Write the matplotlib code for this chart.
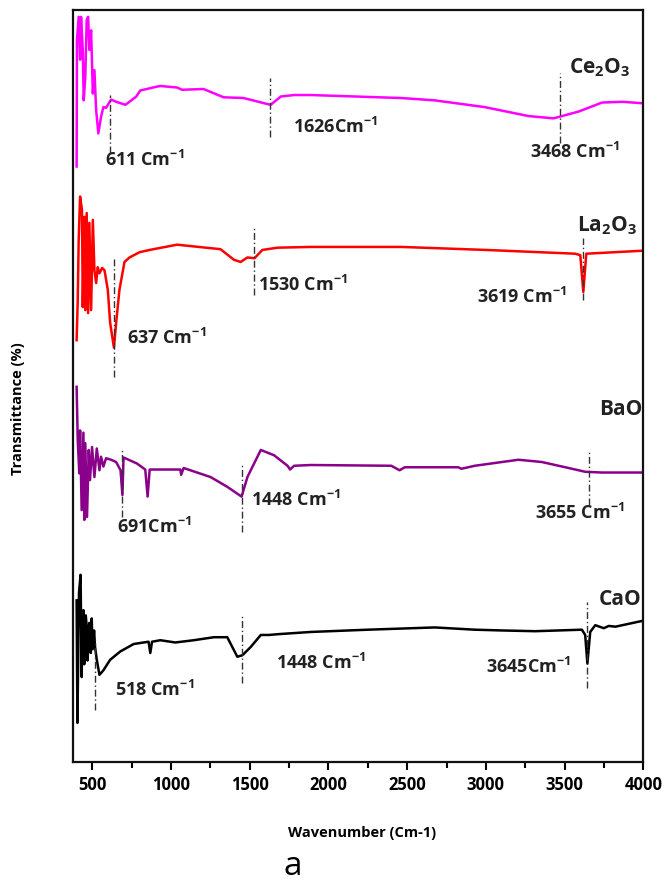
import matplotlib
matplotlib.use("Agg")
import matplotlib.pyplot as plt
from matplotlib.ticker import MultipleLocator

plt.rcParams["font.family"] = ["Open Sans", "DejaVu Sans"]
plt.rcParams["font.weight"] = "bold"
plt.rcParams["mathtext.fontset"] = "custom"
plt.rcParams["mathtext.rm"] = "Open Sans:bold"
plt.rcParams["mathtext.bf"] = "Open Sans:bold"
plt.rcParams["mathtext.it"] = "Open Sans:bold"
plt.rcParams["mathtext.default"] = "rm"

# FTIR spectra (wavenumber in cm-1, offset transmittance in arbitrary %)
ce_wn = [400, 402, 413, 422, 428, 439, 445, 455, 464, 473, 481, 492, 503, 513,
         524, 538, 555, 570, 587, 619, 651, 710, 779, 804, 906, 932, 1038, 1070,
         1206, 1334, 1461, 1612, 1633, 1697, 1781, 1888, 2462, 2672, 2991, 3272,
         3430, 3589, 3738, 3866, 4000]
ce_t = [79.2, 96.0, 99.1, 93.4, 99.1, 94.7, 88.0, 91.1, 98.7, 99.1, 94.7, 97.3,
        88.9, 92.0, 86.7, 83.6, 85.8, 87.1, 87.0, 88.1, 87.8, 87.4, 88.5, 89.3,
        89.8, 89.9, 89.7, 89.4, 89.5, 88.4, 88.3, 87.5, 87.4, 88.5, 88.7, 88.7,
        88.3, 88.0, 87.1, 85.9, 85.6, 86.5, 87.7, 87.8, 87.6]

la_wn = [400, 407, 413, 422, 434, 439, 449, 455, 464, 473, 481, 492, 503, 513,
         524, 534, 545, 562, 577, 598, 613, 637, 651, 672, 704, 736, 800, 864,
         1038, 1314, 1399, 1442, 1485, 1530, 1580, 1676, 1888, 2462, 3000, 3568,
         3600, 3619, 3638, 4000]
la_t = [56.1, 61.4, 69.4, 75.2, 73.4, 60.5, 72.5, 60.1, 73.0, 59.7, 71.7, 60.1,
        72.1, 65.4, 63.7, 65.8, 65.0, 65.7, 65.4, 62.8, 58.4, 55.1, 58.4, 62.8,
        66.5, 67.1, 67.8, 68.1, 68.8, 68.2, 66.8, 66.5, 67.1, 67.0, 68.1, 68.4,
        68.5, 68.5, 68.1, 67.6, 67.4, 62.5, 67.6, 68.0]

ba_wn = [400, 407, 417, 422, 432, 443, 449, 455, 466, 477, 485, 498, 513, 528,
         545, 555, 570, 587, 619, 651, 679, 691, 698, 783, 836, 851, 864, 932,
         1059, 1064, 1080, 1251, 1357, 1448, 1485, 1570, 1654, 1740, 1756, 1782,
         1888, 2399, 2452, 2484, 2824, 2845, 2930, 3207, 3355, 3526, 3631, 3738,
         4000]
ba_t = [49.9, 42.8, 38.4, 44.1, 33.5, 43.8, 32.2, 42.4, 32.6, 41.5, 37.5, 41.9,
        37.9, 41.7, 38.8, 40.6, 39.3, 40.4, 40.2, 39.9, 38.8, 35.5, 40.5, 39.7,
        38.9, 35.3, 38.9, 38.9, 38.9, 38.2, 39.1, 37.9, 36.6, 35.3, 37.9, 41.5,
        40.8, 39.4, 38.9, 39.4, 39.5, 39.4, 38.8, 39.2, 39.2, 39.0, 39.4, 40.2,
        39.9, 39.1, 38.6, 38.5, 38.5]

ca_wn = [400, 405, 415, 425, 432, 437, 443, 448, 453, 458, 464, 469, 474, 480,
         485, 490, 496, 501, 506, 511, 517, 528, 545, 570, 613, 677, 763, 857,
         868, 879, 932, 1027, 1144, 1272, 1357, 1389, 1421, 1453, 1506, 1570,
         1623, 1676, 1888, 2250, 2675, 2930, 3100, 3313, 3610, 3631, 3645, 3663,
         3695, 3749, 3781, 3823, 4000]
ca_t = [21.5, 5.2, 22.5, 24.9, 11.3, 19.0, 20.2, 13.0, 14.5, 19.5, 18.0, 13.5,
        15.3, 18.5, 16.6, 14.5, 19.1, 15.0, 16.2, 17.5, 15.3, 13.6, 11.6, 12.2,
        13.6, 14.7, 15.7, 16.0, 14.5, 16.0, 16.2, 15.9, 16.2, 16.6, 16.6, 15.3,
        14.0, 14.2, 15.3, 16.9, 16.9, 17.0, 17.3, 17.6, 17.9, 17.6, 17.5, 17.4,
        17.6, 16.9, 13.1, 17.3, 18.2, 17.8, 18.1, 18.0, 18.8]

series_names = ["Ce$_2$O$_3$", "La$_2$O$_3$", "BaO", "CaO"]
series_colors = ["#FF00FF", "#FF0000", "#8B008B", "#000000"]

# Band assignments: wavenumber, label text, dashed-line extent, label anchor
band_wn = [611, 1626, 3468, 637, 1530, 3619, 691, 1448, 3655, 518, 1448, 3645]
band_text = ["611 Cm$^{-1}$", "1626Cm$^{-1}$", "3468 Cm$^{-1}$",
             "637 Cm$^{-1}$", "1530 Cm$^{-1}$", "3619 Cm$^{-1}$",
             "691Cm$^{-1}$", "1448 Cm$^{-1}$", "3655 Cm$^{-1}$",
             "518 Cm$^{-1}$", "1448 Cm$^{-1}$", "3645Cm$^{-1}$"]
band_lo = [81.0, 83.1, 82.3, 51.2, 62.1, 61.4, 32.6, 30.6, 34.2, 6.9, 10.5, 9.8]
band_hi = [88.7, 91.0, 91.6, 67.0, 71.1, 69.7, 41.8, 39.8, 41.2, 16.2, 19.5, 21.3]
label_x = [581, 1774, 3279, 722, 1550, 2941, 658, 1506, 3311, 645, 1665, 3004]
label_y = [80.1, 84.4, 81.1, 56.4, 63.4, 61.8, 31.3, 34.8, 33.1, 9.6, 13.2, 12.6]

name_x = [3530, 3578, 3719, 3719]
name_y = [91.6, 70.6, 46.1, 20.9]

fig = plt.figure(figsize=(6.7, 8.82), dpi=100)
ax = fig.add_axes([0.1085, 0.136, 0.8516, 0.8526])

for wn, t, c in zip([ce_wn, la_wn, ba_wn, ca_wn], [ce_t, la_t, ba_t, ca_t],
                    series_colors):
    ax.plot(wn, t, color=c, lw=1.8, solid_joinstyle="round")

for wn, txt, lo, hi, lx, ly in zip(band_wn, band_text, band_lo, band_hi,
                                   label_x, label_y):
    ax.plot([wn, wn], [lo, hi], color="#333333", lw=1.0,
            linestyle=(0, (5, 2, 1, 2)))
    ax.text(lx, ly, txt, fontsize=13, fontweight="bold", ha="left",
            va="center", color="#222222")

for name, nx, ny in zip(series_names, name_x, name_y):
    ax.text(nx, ny, name, fontsize=15, fontweight="bold", ha="left",
            va="baseline", color="#222222")

ax.set_xlim(375, 4000)
ax.set_ylim(0, 100)
ax.set_yticks([])
ax.xaxis.set_major_locator(MultipleLocator(500))
ax.xaxis.set_minor_locator(MultipleLocator(250))
ax.tick_params(axis="x", which="major", direction="out", length=6, width=1.5,
               labelsize=12, pad=4)
ax.tick_params(axis="x", which="minor", direction="out", length=4, width=1.5)
for lab in ax.get_xticklabels():
    lab.set_fontweight("bold")
for sp in ax.spines.values():
    sp.set_linewidth(1.6)
    sp.set_color("#111111")

fig.text(0.54, 0.0556, "Wavenumber (Cm-1)", ha="center", va="center",
         fontsize=10.5, fontweight="bold")
fig.text(0.027, 0.537, "Transmittance (%)", ha="center", va="center",
         rotation=90, fontsize=10.5, fontweight="bold")
fig.text(0.437, 0.018, "a", ha="center", va="center", fontsize=24,
         fontweight="normal", family=["Open Sans", "DejaVu Sans"])

fig.savefig("out.png", dpi=100)
